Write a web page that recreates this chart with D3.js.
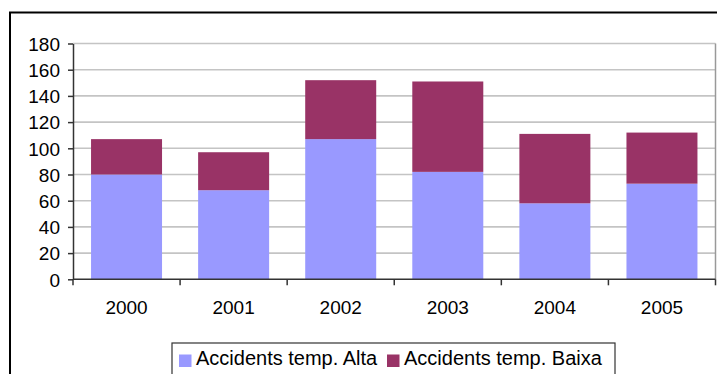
<!DOCTYPE html>
<html>
<head>
<meta charset="utf-8">
<script src="https://cdn.jsdelivr.net/npm/d3@7"></script>
<style>
  html, body { margin: 0; padding: 0; background: #fff; }
  svg { display: block; font-family: Arial, "Liberation Sans", sans-serif; }
</style>
</head>
<body>
<svg id="chart" width="717" height="374"></svg>
<script>
// Accidents per year, split by season
const years = ["2000", "2001", "2002", "2003", "2004", "2005"];
const alta  = [80, 68, 107, 82, 58, 73];
const baixa = [27, 29, 45, 69, 53, 39];
const seriesNames = ["Accidents temp. Alta", "Accidents temp. Baixa"];
const seriesColors = ["#9999FF", "#993366"];
const yTicks = [0, 20, 40, 60, 80, 100, 120, 140, 160, 180];

const svg = d3.select("#chart");
const plot = { left: 73, right: 715.5, top: 43.5, bottom: 279.3 };

const x = d3.scaleBand().domain(years).range([plot.left, plot.right]).padding(0);
const y = d3.scaleLinear().domain([0, 180]).range([plot.bottom, plot.top]);

// outer frame (right and bottom edges run past the visible area)
svg.append("rect")
  .attr("x", 10).attr("y", 12.5).attr("width", 730).attr("height", 400)
  .attr("fill", "none").attr("stroke", "#000").attr("stroke-width", 2);

// gridlines
svg.append("g").selectAll("line").data(yTicks.filter(d => d > 0)).join("line")
  .attr("x1", plot.left).attr("x2", plot.right)
  .attr("y1", d => y(d)).attr("y2", d => y(d))
  .attr("stroke", "#c4c4c4").attr("stroke-width", 1.6);

// plot area right edge
svg.append("line")
  .attr("x1", plot.right).attr("x2", plot.right)
  .attr("y1", plot.top).attr("y2", plot.bottom)
  .attr("stroke", "#999").attr("stroke-width", 1.5);

// stacked bars
const stackData = years.map((yr, i) => ({ year: yr, alta: alta[i], baixa: baixa[i] }));
const stacked = d3.stack().keys(["alta", "baixa"])(stackData);
const barW = x.bandwidth() * 0.663;

svg.append("g").selectAll("g").data(stacked).join("g")
  .attr("fill", (d, i) => seriesColors[i])
  .selectAll("rect").data(d => d).join("rect")
  .attr("x", d => x(d.data.year) + (x.bandwidth() - barW) / 2)
  .attr("width", barW)
  .attr("y", d => y(d[1]))
  .attr("height", d => y(d[0]) - y(d[1]));

// y axis
const yAxis = svg.append("g")
  .attr("transform", `translate(${plot.left},0)`)
  .call(d3.axisLeft(y).tickValues(yTicks).tickSize(5).tickPadding(8).tickSizeOuter(0));
yAxis.select(".domain").attr("stroke", "#333").attr("stroke-width", 1.5);
yAxis.selectAll(".tick line").attr("stroke", "#333").attr("stroke-width", 1.5);
yAxis.selectAll(".tick text")
  .attr("font-size", 19).attr("fill", "#000")
  .attr("font-family", "Arial, 'Liberation Sans', sans-serif")
  .attr("dy", "0.36em");

// x axis with ticks between categories
const xAxis = svg.append("g").attr("transform", `translate(0,${plot.bottom})`);
xAxis.append("line")
  .attr("x1", plot.left).attr("x2", plot.right)
  .attr("stroke", "#333").attr("stroke-width", 1.5);
const boundaries = years.map(d => x(d)).concat([plot.right]);
xAxis.selectAll("line.tk").data(boundaries).join("line").attr("class", "tk")
  .attr("x1", d => d).attr("x2", d => d).attr("y1", 0).attr("y2", 6)
  .attr("stroke", "#333").attr("stroke-width", 1.5);
xAxis.selectAll("text").data(years).join("text")
  .attr("x", d => x(d) + x.bandwidth() / 2)
  .attr("y", 35)
  .attr("text-anchor", "middle")
  .attr("font-size", 19).attr("fill", "#000")
  .text(d => d);

// legend
const legend = svg.append("g");
legend.append("rect")
  .attr("x", 172).attr("y", 343).attr("width", 443).attr("height", 60)
  .attr("fill", "#fff").attr("stroke", "#333").attr("stroke-width", 1.2);
const legendItems = [
  { name: seriesNames[0], color: seriesColors[0], sx: 179, tx: 196 },
  { name: seriesNames[1], color: seriesColors[1], sx: 387, tx: 404 }
];
const li = legend.selectAll("g.item").data(legendItems).join("g").attr("class", "item");
li.append("rect")
  .attr("x", d => d.sx).attr("y", 354.5).attr("width", 12.5).attr("height", 12.5)
  .attr("fill", d => d.color);
li.append("text")
  .attr("x", d => d.tx).attr("y", 365)
  .attr("font-size", 20).attr("fill", "#000")
  .text(d => d.name);
</script>
</body>
</html>
